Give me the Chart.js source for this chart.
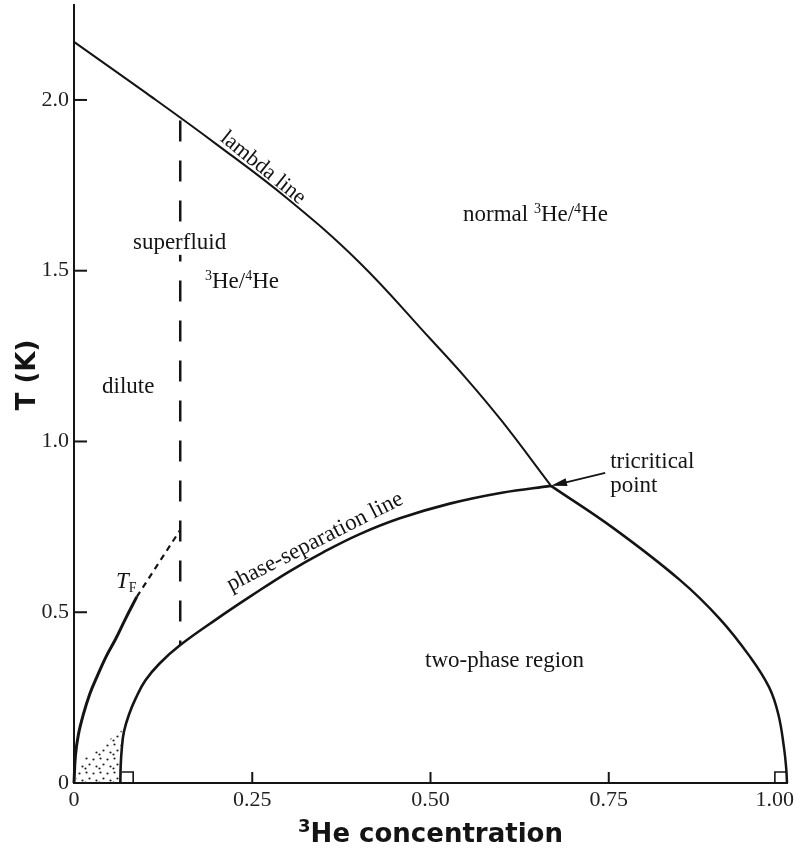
<!DOCTYPE html>
<html lang="en">
<head>
<meta charset="UTF-8">
<title>3He-4He phase diagram</title>
<script src="https://cdn.jsdelivr.net/npm/chart.js"></script>
<style>
  body { margin: 0; background: #fff; }
  #wrap { width: 800px; height: 849px; position: relative; }
</style>
</head>
<body>
<div id="wrap"><canvas id="phaseChart"></canvas></div>
<script>
// x = 3He concentration, y = temperature (K)
const xTicks = [0, 0.25, 0.5, 0.75, 1.0];
const xTickLabels = ['0', '0.25', '0.50', '0.75', '1.00'];
const yTicks = [0, 0.5, 1.0, 1.5, 2.0];
const yTickLabels = ['0', '0.5', '1.0', '1.5', '2.0'];

// lambda line, from pure 4He down to the tricritical point
const lambdaC = [0, 0.1, 0.2, 0.3, 0.4, 0.5, 0.55, 0.6, 0.669];
const lambdaT = [2.17, 2.022, 1.87, 1.71, 1.525, 1.30, 1.185, 1.06, 0.87];

// 3He-rich side of the coexistence curve
const richC = [0.669, 0.756, 0.85, 0.906, 0.948, 0.975, 0.988, 0.996, 0.999, 1.0];
const richT = [0.87, 0.747, 0.594, 0.48, 0.37, 0.28, 0.2, 0.1, 0.04, 0];

// 4He-rich side (phase-separation line)
const sepC = [0.065, 0.0655, 0.067, 0.07, 0.077, 0.087, 0.1, 0.12, 0.149, 0.2, 0.25, 0.3, 0.35, 0.4, 0.457, 0.527, 0.6, 0.669];
const sepT = [0, 0.05, 0.1, 0.15, 0.2, 0.25, 0.3, 0.35, 0.404, 0.48, 0.55, 0.617, 0.676, 0.728, 0.775, 0.818, 0.85, 0.87];

// Fermi temperature of the dilute 3He
const fermiC = [0, 0.002, 0.006, 0.013, 0.022, 0.032, 0.045, 0.058, 0.072, 0.088];
const fermiT = [0, 0.08, 0.14, 0.2, 0.26, 0.31, 0.37, 0.42, 0.48, 0.545];
const fermiDashC = [0.088, 0.149];
const fermiDashT = [0.545, 0.741];

// superfluid boundary inside the dilute phase
const boundaryC = [0.149, 0.149];
const boundaryT = [1.94, 0.404];

// stippled corner near T = 0
const stippleC = [0.003, 0.02, 0.04, 0.06, 0.067, 0.067];
const stippleT = [0.045, 0.085, 0.11, 0.145, 0.155, 0];

// right-angle marks where the curves meet the axis
const markLeftC = [0.067, 0.083, 0.083];
const markLeftT = [0.032, 0.032, 0];
const markRightC = [0.999, 0.983, 0.983];
const markRightT = [0.032, 0.032, 0];

const pts = (cs, ts) => cs.map((c, i) => ({ x: c, y: ts[i] }));

const INK = '#141414';
const SERIF = '"Liberation Serif", "Times New Roman", serif';
const SANS = '"DejaVu Sans", sans-serif';

// dot texture for the stippled area
const dotCanvas = document.createElement('canvas');
dotCanvas.width = 14; dotCanvas.height = 14;
const dc = dotCanvas.getContext('2d');
dc.fillStyle = '#222';
[[2, 2], [9, 3], [5, 8], [12, 10], [1, 12]].forEach(([a, b]) => {
  dc.beginPath(); dc.arc(a + 0.5, b + 0.5, 1.1, 0, Math.PI * 2); dc.fill();
});
const dots = dc.createPattern(dotCanvas, 'repeat');

// curved lines get a spline, straight pieces (tension 0) stay sharp
function line(data, width, dash, tension = 0.4) {
  return {
    data, showLine: true, pointRadius: 0, borderColor: INK, backgroundColor: INK,
    borderWidth: width, borderDash: dash || [], fill: false, clip: false,
    tension
  };
}

// draws a run of text pieces with their own size / offset (for superscripts)
function richText(ctx, parts, x, y, align) {
  let total = 0;
  parts.forEach(p => { ctx.font = p.font; total += ctx.measureText(p.t).width; });
  let cx = align === 'center' ? x - total / 2 : x;
  ctx.textAlign = 'left';
  parts.forEach(p => {
    ctx.font = p.font;
    ctx.fillText(p.t, cx, y - (p.rise || 0));
    cx += ctx.measureText(p.t).width;
  });
  return total;
}

const serif = s => `${s}px ${SERIF}`;

const notes = {
  id: 'notes',
  afterDraw(chart) {
    const { ctx, chartArea: ca } = chart;
    const sx = chart.scales.x, sy = chart.scales.y;
    const X = v => sx.getPixelForValue(v), Y = v => sy.getPixelForValue(v);
    ctx.save();
    ctx.fillStyle = INK;
    ctx.strokeStyle = INK;
    ctx.textBaseline = 'alphabetic';

    // inward tick marks
    ctx.lineWidth = 2;
    yTicks.slice(1).forEach(v => {
      ctx.beginPath(); ctx.moveTo(ca.left, Y(v)); ctx.lineTo(ca.left + 13, Y(v)); ctx.stroke();
    });
    xTicks.slice(1, 4).forEach(v => {
      ctx.beginPath(); ctx.moveTo(X(v), ca.bottom); ctx.lineTo(X(v), ca.bottom - 11); ctx.stroke();
    });

    // x tick labels, kept inside the canvas at the right end
    ctx.font = serif(22);
    ctx.fillStyle = '#222';
    ctx.textAlign = 'center';
    xTicks.forEach((v, i) => {
      const w = ctx.measureText(xTickLabels[i]).width;
      const cx = Math.min(X(v), chart.width - 6 - w / 2);
      ctx.fillText(xTickLabels[i], cx, ca.bottom + 23);
    });
    ctx.fillStyle = INK;

    // region labels
    const f = serif(23), sup = serif(14);
    richText(ctx, [{ t: 'normal ', font: f }, { t: '3', font: sup, rise: 8 }, { t: 'He/', font: f },
      { t: '4', font: sup, rise: 8 }, { t: 'He', font: f }], X(0.5456), Y(1.646));
    // "superfluid" sits over the dashed boundary on a white patch
    ctx.font = f;
    const sw = ctx.measureText('superfluid').width;
    ctx.fillStyle = '#fff';
    ctx.fillRect(X(0.0827), Y(1.564) - 19, sw, 25);
    ctx.fillStyle = INK;
    richText(ctx, [{ t: 'superfluid', font: f }], X(0.0827), Y(1.564));
    richText(ctx, [{ t: '3', font: sup, rise: 8 }, { t: 'He/', font: f },
      { t: '4', font: sup, rise: 8 }, { t: 'He', font: f }], X(0.1837), Y(1.4495));
    richText(ctx, [{ t: 'dilute', font: f }], X(0.0393), Y(1.142));
    richText(ctx, [{ t: 'T', font: `italic 23px ${SERIF}` }, { t: 'F', font: serif(14), rise: -4 }], X(0.059), Y(0.571));
    richText(ctx, [{ t: 'tricritical', font: f }], X(0.752), Y(0.922));
    richText(ctx, [{ t: 'point', font: f }], X(0.752), Y(0.852));
    richText(ctx, [{ t: 'two-phase region', font: f }], X(0.4923), Y(0.3397));

    // labels running along the curves
    ctx.textAlign = 'center';
    ctx.textBaseline = 'middle';
    ctx.font = serif(22);
    ctx.save();
    ctx.translate(X(0.265), Y(1.801));
    ctx.rotate(39 * Math.PI / 180);
    ctx.fillText('lambda line', 0, 0);
    ctx.restore();
    ctx.save();
    ctx.translate(X(0.338), Y(0.706));
    ctx.rotate(-27 * Math.PI / 180);
    ctx.font = serif(23);
    ctx.fillText('phase-separation line', 0, 0);
    ctx.restore();

    // arrow to the tricritical point
    const ax0 = X(0.745), ay0 = Y(0.908), ax1 = X(lambdaC[lambdaC.length - 1]), ay1 = Y(lambdaT[lambdaT.length - 1]);
    const ang = Math.atan2(ay1 - ay0, ax1 - ax0);
    ctx.lineWidth = 1.8;
    ctx.beginPath(); ctx.moveTo(ax0, ay0); ctx.lineTo(ax1 - 8 * Math.cos(ang), ay1 - 8 * Math.sin(ang)); ctx.stroke();
    ctx.beginPath();
    ctx.moveTo(ax1, ay1);
    ctx.lineTo(ax1 - 16 * Math.cos(ang) + 4 * Math.sin(ang), ay1 - 16 * Math.sin(ang) - 4 * Math.cos(ang));
    ctx.lineTo(ax1 - 16 * Math.cos(ang) - 4 * Math.sin(ang), ay1 - 16 * Math.sin(ang) + 4 * Math.cos(ang));
    ctx.closePath(); ctx.fill();

    // axis titles
    ctx.textBaseline = 'alphabetic';
    richText(ctx, [{ t: '3', font: `bold 18px ${SANS}`, rise: 10 }, { t: 'He concentration', font: `bold 26px ${SANS}` }],
      (ca.left + ca.right) / 2, 842, 'center');
    ctx.save();
    ctx.translate(28, 375);
    ctx.rotate(-Math.PI / 2);
    ctx.textAlign = 'center';
    ctx.textBaseline = 'middle';
    ctx.font = `bold 26px ${SANS}`;
    ctx.fillText('T (K)', 0, 0);
    ctx.restore();
    ctx.restore();
  }
};

new Chart(document.getElementById('phaseChart'), {
  type: 'scatter',
  data: {
    datasets: [
      Object.assign(line(pts(stippleC, stippleT), 0, null, 0), { fill: 'origin', backgroundColor: dots }),
      line(pts(lambdaC, lambdaT), 2),
      line(pts(richC, richT), 2.5),
      line(pts(sepC, sepT), 2.6),
      line(pts(fermiC, fermiT), 3),
      line(pts(fermiDashC, fermiDashT), 2.2, [6, 5], 0),
      line(pts(boundaryC, boundaryT), 2.5, [21, 19], 0),
      line(pts(markLeftC, markLeftT), 1.6, null, 0),
      line(pts(markRightC, markRightT), 1.6, null, 0)
    ]
  },
  options: {
    responsive: true,
    maintainAspectRatio: false,
    animation: false,
    layout: { padding: { top: 5, right: 13, left: 0, bottom: 0 } },
    plugins: { legend: { display: false }, tooltip: { enabled: false } },
    scales: {
      x: {
        type: 'linear', min: 0, max: 1,
        border: { display: true, color: INK, width: 2 },
        grid: { display: true, drawOnChartArea: false, drawTicks: false },
        ticks: { display: false },
        afterBuildTicks: s => { s.ticks = xTicks.map(v => ({ value: v })); },
        afterFit: s => { s.height = 66; s.paddingLeft = 0; s.paddingRight = 0; }
      },
      y: {
        type: 'linear', min: 0, max: 2.278,
        border: { display: true, color: INK, width: 2 },
        grid: { display: true, drawOnChartArea: false, drawTicks: false },
        ticks: {
          padding: 5, color: '#222', font: { family: SERIF, size: 22 },
          callback: v => yTickLabels[yTicks.indexOf(v)]
        },
        afterBuildTicks: s => { s.ticks = yTicks.map(v => ({ value: v })); },
        afterFit: s => { s.width = 74; s.paddingTop = 0; s.paddingBottom = 0; }
      }
    }
  },
  plugins: [notes]
});
</script>
</body>
</html>
